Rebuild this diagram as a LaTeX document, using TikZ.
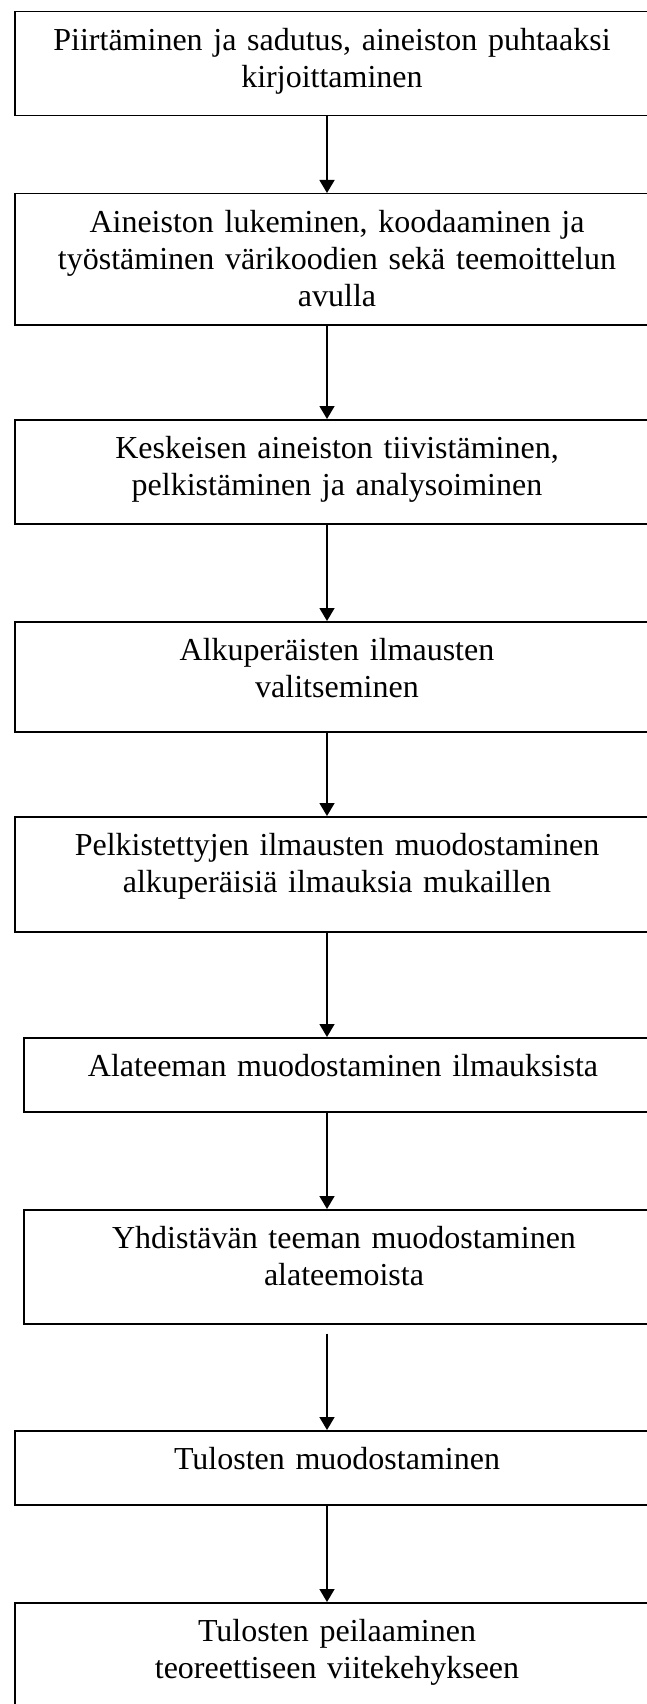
\documentclass[tikz,border=0pt]{standalone}
\usepackage{fontspec}
\setmainfont{Liberation Serif}
\usetikzlibrary{arrows.meta,positioning}

\begin{document}
\begin{tikzpicture}[
x=1pt,
y=-1pt,
box/.style={
  draw,
  rectangle,
  line width=1.5pt,
  anchor=north west,
  minimum width=660pt,
  inner sep=0pt
  },
txt/.style={
  anchor=base,
  align=center,
  text width=620pt,
  inner sep=0pt,
  yshift=-39.5pt,
  xshift=10pt,
  font=\fontsize{32}{37}\selectfont
  },
>={Triangle[width=15pt,length=13pt]}
]
\useasboundingbox (0,0) rectangle (647,1704);
\clip (0,0) rectangle (647,1704);

\coordinate (spine) at (327,0);

% boxes
\node[box, minimum height=104pt] (b1) at (14,11) {};
\node[box, minimum height=131pt] (b2) at (14,193) {};
\node[box, minimum height=104pt] (b3) at (14,419) {};
\node[box, minimum height=110pt] (b4) at (14,621) {};
\node[box, minimum height=115pt] (b5) at (14,816) {};
\node[box, minimum height=74pt] (b6) at (23,1037) {};
\node[box, minimum height=114pt] (b7) at (23,1209) {};
\node[box, minimum height=74pt] (b8) at (14,1430) {};
\node[box, minimum height=140pt] (b9) at (14,1602) {};

% texts
\node[txt, xshift=-5pt] at (b1.north -| spine)
  (t1) {Piirtäminen ja sadutus, aineiston puhtaaksi\\kirjoittaminen};
\node[txt] at (b2.north -| spine)
  (t2) {Aineiston lukeminen, koodaaminen ja\\työstäminen värikoodien sekä teemoittelun\\avulla};
\node[txt] at (b3.north -| spine)
  (t3) {Keskeisen aineiston tiivistäminen,\\pelkistäminen ja analysoiminen};
\node[txt] at (b4.north -| spine)
  (t4) {Alkuperäisten ilmausten\\valitseminen};
\node[txt] at (b5.north -| spine)
  (t5) {Pelkistettyjen ilmausten muodostaminen\\alkuperäisiä ilmauksia mukaillen};
\node[txt, xshift=6pt] at (b6.north -| spine)
  (t6) {Alateeman muodostaminen ilmauksista};
\node[txt, xshift=7pt] at (b7.north -| spine)
  (t7) {Yhdistävän teeman muodostaminen\\alateemoista};
\node[txt] at (b8.north -| spine)
  (t8) {Tulosten muodostaminen};
\node[txt] at (b9.north -| spine)
  (t9) {Tulosten peilaaminen\\teoreettiseen viitekehykseen};

% arrows
\foreach \from/\to in {b1/b2,b2/b3,b3/b4,b4/b5,b5/b6,b6/b7,b8/b9}
{
  \draw[->, line width=1.5pt] (\from.south -| spine) -- (\to.north -| spine);
}
\draw[->, line width=1.5pt, shorten <=9pt] (b7.south -| spine) -- (b8.north -| spine);
\end{tikzpicture}
\end{document}
